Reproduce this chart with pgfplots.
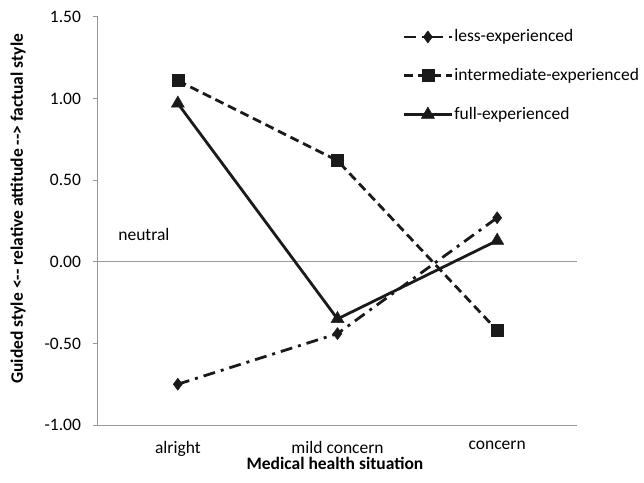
\documentclass[border=0pt]{standalone}
\usepackage{pgfplots}
\pgfplotsset{compat=1.18}
\usepackage{fontspec}
\setmainfont{Carlito}
\definecolor{axgray}{HTML}{989898}
\definecolor{ln}{HTML}{1A1A1A}
\newcommand{\fs}{\fontsize{17.5pt}{21pt}\selectfont}
\begin{document}
\fs
\begin{tikzpicture}
\useasboundingbox (-98pt,-57pt) rectangle (546pt,425pt);
\begin{axis}[
  scale only axis, width=479pt, height=408pt,
  at={(0,0)}, anchor=south west,
  xmin=-0.5, xmax=2.5, ymin=-1, ymax=1.5,
  axis x line*=bottom, axis y line*=left,
  axis line style={axgray, line width=1pt},
  xtick={0,1,2}, xticklabels={alright,mild concern,concern},
  x tick style={draw=none},
  extra x ticks={0.5,1.5,2.5}, extra x tick labels={},
  extra x tick style={tick style={draw=axgray, line width=1pt}, major tick length=5pt, tick align=outside},
  ytick={-1,-0.5,0,0.5,1,1.5},
  yticklabels={-1.00,-0.50,0.00,0.50,1.00,1.50},
  y tick style={draw=axgray, line width=1pt},
  major tick length=5pt, tick align=outside,
  tick label style={font=\fs, text=black},
  yticklabel style={xshift=-6pt},
  xticklabel style={yshift=-5pt},
  clip=false,
  legend style={at={(rel axis cs:0.629,0.977)}, anchor=north west, draw=none, fill=none,
    font=\fs, row sep=22pt,
    legend cell align=left, nodes={inner sep=1pt}},
  legend image code/.code={\draw[mark repeat=2,mark phase=2,#1] plot coordinates {(0pt,0pt) (24pt,0pt) (48pt,0pt)};},
]
\draw[axgray, line width=1pt] (axis cs:-0.5,0) -- (axis cs:2.5,0);
\node[anchor=west, font=\fs] at (axis cs:-0.41,0.17) {neutral};
\node[font=\fs\bfseries] at (axis cs:0.984,-1.235) {Medical health situation};
\node[font=\fs\bfseries, rotate=90] at (axis cs:-1.0,0.325) {Guided style <{-}{-} relative attitude {-}{-}> factual style};
\addplot[ln, line width=2.8pt, dash pattern=on 12pt off 6pt on 3pt off 6pt, mark=diamond*, mark size=6pt, mark options={solid, fill=ln, line width=0.5pt}]
  coordinates {(0,-0.75) (1,-0.44) (2,0.27)};
\addlegendentry{less-experienced}
\addplot[ln, line width=2.8pt, dash pattern=on 9pt off 5pt, mark=square*, mark size=6pt, mark options={solid, fill=ln, line width=0.5pt}]
  coordinates {(0,1.11) (1,0.62) (2,-0.42)};
\addlegendentry{intermediate-experienced}
\addplot[ln, line width=2.8pt, mark=triangle*, mark size=7.5pt, mark options={solid, fill=ln, line width=0.5pt}]
  coordinates {(0,0.97) (1,-0.35) (2,0.13)};
\addlegendentry{full-experienced}
\end{axis}
\end{tikzpicture}
\end{document}
